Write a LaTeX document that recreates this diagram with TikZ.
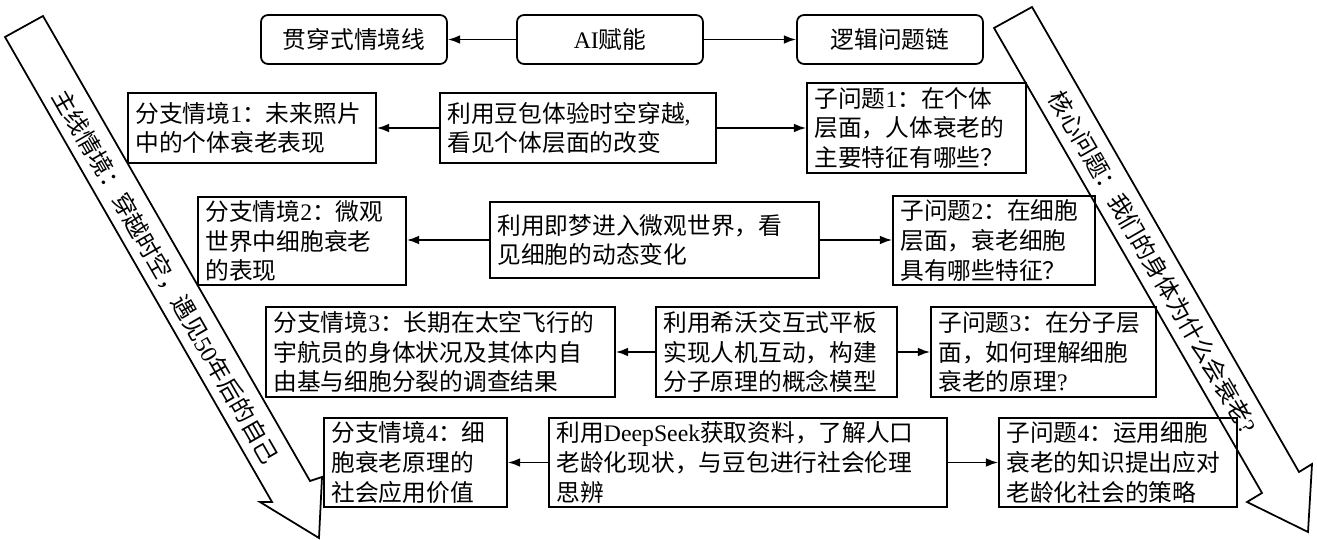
\documentclass[tikz,border=0pt]{standalone}
\usepackage{fontspec}
\setmainfont{Liberation Serif}
\newfontfamily\cjk{Noto Sans CJK SC}
\newcommand{\en}[1]{{\rmfamily #1}}
\usetikzlibrary{arrows.meta}

\begin{document}
\begin{tikzpicture}[x=0.02cm, y=-0.02cm, line width=1pt,
    font=\cjk\fontsize{13.5}{17}\selectfont,
    topbox/.style={draw, rounded corners=4pt, minimum width=3.72cm, minimum height=0.98cm},
    txtbox/.style={draw, align=left, inner xsep=0.15cm, inner ysep=0pt},
    link/.style={-{Latex[length=7pt,width=5pt]}}]
\useasboundingbox (0,0) rectangle (1317,540);

    \node[topbox] (t1) at (354,39.5) {贯穿式情境线};
    \node[topbox] (ai) at (610,39.5) {\en{AI}赋能};
    \node[topbox] (t2) at (890,39.5) {逻辑问题链};

    \node[txtbox, text width=4.66cm, minimum height=1.40cm] (s1) at (252,128) {分支情境\en{1}：未来照片\\中的个体衰老表现};
    \node[txtbox, text width=5.22cm, minimum height=1.40cm] (m1) at (578,128) {利用豆包体验时空穿越\en{,}\\看见个体层面的改变};
    \node[txtbox, text width=4.08cm, minimum height=1.80cm] (q1) at (916.5,128) {子问题\en{1}：在个体\\层面，人体衰老的\\主要特征有哪些？};

    \node[txtbox, text width=3.86cm, minimum height=1.76cm] (s2) at (302,241) {分支情境\en{2}：微观\\世界中细胞衰老\\的表现};
    \node[txtbox, text width=6.28cm, minimum height=1.52cm] (m2) at (654.5,240) {利用即梦进入微观世界，看\\见细胞的动态变化};
    \node[txtbox, text width=3.74cm, minimum height=1.78cm] (q2) at (994,240.5) {子问题\en{2}：在细胞\\层面，衰老细胞\\具有哪些特征？};

    \node[txtbox, text width=6.68cm, minimum height=1.80cm] (s3) at (440.5,352) {分支情境\en{3}：长期在太空飞行的\\宇航员的身体状况及其体内自\\由基与细胞分裂的调查结果};
    \node[txtbox, text width=4.52cm, minimum height=1.80cm] (m3) at (776.5,352) {利用希沃交互式平板\\实现人机互动，构建\\分子原理的概念模型};
    \node[txtbox, text width=4.20cm, minimum height=1.80cm] (q3) at (1043.5,352) {子问题\en{3}：在分子层\\面，如何理解细胞\\衰老的原理\en{?}};

    \node[txtbox, text width=3.36cm, minimum height=1.78cm] (s4) at (415.5,462.5) {分支情境\en{4}：细\\胞衰老原理的\\社会应用价值};
    \node[txtbox, text width=7.66cm, minimum height=1.78cm] (m4) at (748,462.5) {利用\en{DeepSeek}获取资料，了解人口\\老龄化现状，与豆包进行社会伦理\\思辨};
    \node[txtbox, text width=4.46cm, minimum height=1.78cm] (q4) at (1118,462.5) {子问题\en{4}：运用细胞\\衰老的知识提出应对\\老龄化社会的策略};

    \draw[link] (ai) -- (t1);
    \draw[link] (ai) -- (t2);
    \draw[link] (m1.west) -- (m1.west -| s1.east);
    \draw[link] (m1.east) -- (m1.east -| q1.west);
    \draw[link] (m2.west) -- (m2.west -| s2.east);
    \draw[link] (m2.east) -- (m2.east -| q2.west);
    \draw[link] (m3.west) -- (m3.west -| s3.east);
    \draw[link] (m3.east) -- (m3.east -| q3.west);
    \draw[link] (m4.west) -- (m4.west -| s4.east);
    \draw[link] (m4.east) -- (m4.east -| q4.west);

    \draw (43,16) -- (310,481) -- (322,477) -- (319,538) -- (260,502) -- (272,502) -- (5,37) -- cycle;
    \node[rotate=-60.1] (mainline) at (166,277) {主线情境：穿越时空，遇见\en{50}年后的自己};

    \draw (1032,7) -- (1299,472) -- (1312,464) -- (1308,532) -- (1247,502) -- (1262,493) -- (994,28) -- cycle;
    \node[rotate=-60] (core) at (1153,262) {核心问题：我们的身体为什么会衰老\en{?}};
\end{tikzpicture}
\end{document}
